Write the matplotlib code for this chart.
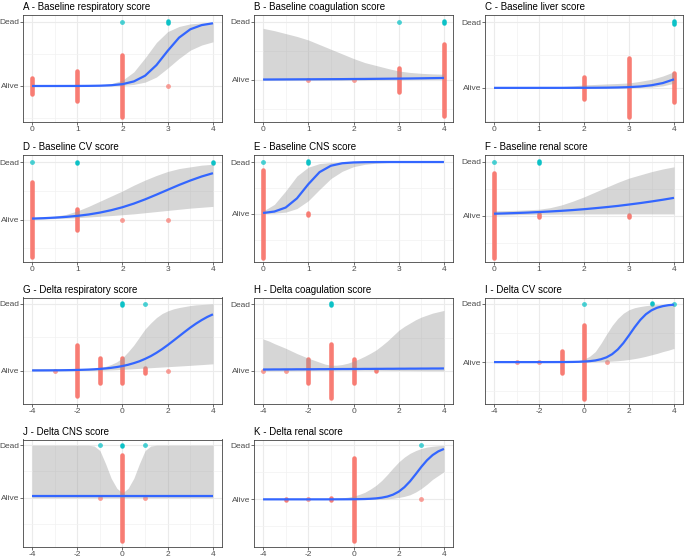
import matplotlib
matplotlib.use('Agg')
import matplotlib.pyplot as plt

plt.rcParams['font.family'] = ['Liberation Sans', 'DejaVu Sans']
plt.rcParams['axes.unicode_minus'] = False

# ---------------- data ----------------
OUTCOME_LABELS = ['Alive', 'Dead']
OUTCOME_VALUES = [0, 1]

TITLES = ['A - Baseline respiratory score', 'B - Baseline coagulation score',
          'C - Baseline liver score', 'D - Baseline CV score',
          'E - Baseline CNS score', 'F - Baseline renal score',
          'G - Delta respiratory score', 'H - Delta coagulation score',
          'I - Delta CV score', 'J - Delta CNS score', 'K - Delta renal score']

BASE_TICKS = [0, 1, 2, 3, 4]
DELTA_TICKS = [-4, -2, 0, 2, 4]

# x grid of the fitted curves (baseline 0..4, delta -4..4)
XB = [0, 0.25, 0.5, 0.75, 1, 1.25, 1.5, 1.75, 2, 2.25, 2.5, 2.75, 3, 3.25, 3.5, 3.75, 4]
XD = [-4, -3.75, -3.5, -3.25, -3, -2.75, -2.5, -2.25, -2, -1.75, -1.5, -1.25, -1, -0.75,
      -0.5, -0.25, 0, 0.25, 0.5, 0.75, 1, 1.25, 1.5, 1.75, 2, 2.25, 2.5, 2.75, 3, 3.25,
      3.5, 3.75, 4]

# fitted probability of death and confidence ribbon
fit_A = [0.0, 0.0, 0.0001, 0.0003, 0.0007, 0.0019, 0.0047, 0.012, 0.029, 0.071, 0.161, 0.326, 0.55, 0.755, 0.886, 0.951, 0.98]
lo_A = [0, 0, 0, 0, 0, 0, 0.001, 0.003, 0.008, 0.025, 0.06, 0.14, 0.28, 0.43, 0.56, 0.64, 0.69]
hi_A = [0.0, 0.0, 0.001, 0.001, 0.002, 0.004, 0.012, 0.035, 0.09, 0.22, 0.44, 0.68, 0.85, 0.93, 0.97, 0.985, 0.995]

fit_B = [0.008, 0.009, 0.01, 0.011, 0.012, 0.013, 0.014, 0.015, 0.017, 0.018, 0.02, 0.022, 0.024, 0.026, 0.029, 0.032, 0.035]
lo_B = [0, 0, 0, 0, 0, 0, 0, 0, 0.001, 0.002, 0.003, 0.004, 0.005, 0.007, 0.008, 0.01, 0.012]
hi_B = [0.89, 0.85, 0.8, 0.75, 0.69, 0.61, 0.53, 0.45, 0.37, 0.3, 0.25, 0.2, 0.155, 0.13, 0.115, 0.105, 0.1]

fit_C = [0.0, 0.0, 0.0, 0.0, 0.0001, 0.0002, 0.0003, 0.0005, 0.0009, 0.0017, 0.003, 0.006, 0.011, 0.021, 0.04, 0.073, 0.13]
lo_C = [0, 0, 0, 0, 0, 0, 0, 0, 0, 0, 0, 0, 0.002, 0.005, 0.012, 0.03, 0.07]
hi_C = [0.002, 0.003, 0.004, 0.006, 0.009, 0.013, 0.02, 0.03, 0.045, 0.052, 0.06, 0.067, 0.075, 0.1, 0.13, 0.18, 0.245]

fit_D = [0.0175, 0.0244, 0.034, 0.047, 0.065, 0.089, 0.122, 0.164, 0.216, 0.279, 0.353, 0.435, 0.52, 0.604, 0.682, 0.752, 0.81]
lo_D = [0.005, 0.01, 0.018, 0.025, 0.033, 0.045, 0.058, 0.07, 0.085, 0.1, 0.12, 0.14, 0.16, 0.18, 0.2, 0.215, 0.23]
hi_D = [0.035, 0.045, 0.06, 0.09, 0.15, 0.23, 0.32, 0.41, 0.5, 0.6, 0.69, 0.77, 0.84, 0.89, 0.92, 0.95, 0.965]

fit_E = [0.0137, 0.0415, 0.119, 0.297, 0.57, 0.805, 0.928, 0.976, 0.992, 0.9975, 0.9992, 1, 1, 1, 1, 1, 1]
lo_E = [0.003, 0.01, 0.03, 0.1, 0.25, 0.47, 0.68, 0.82, 0.91, 0.955, 0.978, 0.99, 0.995, 0.998, 1, 1, 1]
hi_E = [0.05, 0.18, 0.44, 0.73, 0.9, 0.97, 0.99, 0.997, 1, 1, 1, 1, 1, 1, 1, 1, 1]

fit_F = [0.037, 0.043, 0.05, 0.058, 0.068, 0.079, 0.091, 0.105, 0.121, 0.14, 0.16, 0.182, 0.208, 0.235, 0.265, 0.297, 0.332]
lo_F = [0.013, 0.016, 0.02, 0.024, 0.027, 0.028, 0.03, 0.031, 0.032, 0.032, 0.032, 0.033, 0.033, 0.033, 0.033, 0.033, 0.033]
hi_F = [0.09, 0.095, 0.1, 0.11, 0.12, 0.15, 0.2, 0.27, 0.35, 0.44, 0.53, 0.62, 0.7, 0.76, 0.82, 0.87, 0.91]

fit_G = [0.001, 0.0013, 0.0017, 0.0022, 0.0029, 0.0038, 0.005, 0.0065, 0.0084, 0.011, 0.014, 0.018, 0.024, 0.031, 0.04, 0.052, 0.067,
         0.086, 0.11, 0.138, 0.174, 0.215, 0.264, 0.319, 0.38, 0.445, 0.511, 0.577, 0.641, 0.7, 0.753, 0.8, 0.839]
lo_G = [0.0, 0.0, 0.0, 0.0, 0.0, 0.0001, 0.0002, 0.0003, 0.0005, 0.0008, 0.0012, 0.002, 0.003, 0.005, 0.008, 0.012, 0.018,
        0.022, 0.027, 0.032, 0.037, 0.042, 0.047, 0.052, 0.057, 0.062, 0.067, 0.072, 0.077, 0.083, 0.088, 0.094, 0.1]
hi_G = [0.03, 0.029, 0.028, 0.027, 0.026, 0.025, 0.025, 0.025, 0.025, 0.027, 0.03, 0.036, 0.045, 0.062, 0.09, 0.13, 0.19,
        0.28, 0.38, 0.5, 0.62, 0.71, 0.79, 0.85, 0.89, 0.92, 0.94, 0.955, 0.97, 0.98, 0.985, 0.99, 0.995]

fit_H = [0.020, 0.020, 0.021, 0.021, 0.022, 0.022, 0.023, 0.023, 0.024, 0.024, 0.025, 0.025, 0.026, 0.026, 0.027, 0.027, 0.028,
         0.028, 0.029, 0.029, 0.030, 0.030, 0.031, 0.031, 0.032, 0.032, 0.033, 0.033, 0.034, 0.034, 0.035, 0.035, 0.036]
lo_H = [0.001, 0.001, 0.001, 0.002, 0.002, 0.003, 0.003, 0.004, 0.005, 0.006, 0.007, 0.008, 0.009, 0.01, 0.01, 0.01, 0.01,
        0.01, 0.01, 0.009, 0.009, 0.008, 0.007, 0.006, 0.005, 0.004, 0.004, 0.003, 0.003, 0.002, 0.002, 0.002, 0.001]
hi_H = [0.48, 0.45, 0.41, 0.375, 0.34, 0.3, 0.26, 0.225, 0.19, 0.16, 0.13, 0.1, 0.085, 0.085, 0.095, 0.115, 0.145,
        0.18, 0.22, 0.265, 0.315, 0.38, 0.45, 0.53, 0.61, 0.67, 0.72, 0.77, 0.81, 0.84, 0.87, 0.89, 0.91]

fit_I = [0, 0, 0, 0, 0, 0, 0, 0, 0.0001, 0.0002, 0.0003, 0.0006, 0.001, 0.0017, 0.003, 0.0054, 0.0094,
         0.0163, 0.028, 0.049, 0.082, 0.136, 0.217, 0.327, 0.46, 0.599, 0.724, 0.822, 0.89, 0.934, 0.961, 0.978, 0.987]
lo_I = [0, 0, 0, 0, 0, 0, 0, 0, 0, 0, 0, 0, 0, 0, 0, 0, 0.0,
        0.003, 0.005, 0.008, 0.012, 0.017, 0.024, 0.033, 0.045, 0.06, 0.078, 0.1, 0.125, 0.15, 0.18, 0.205, 0.235]
hi_I = [0.001, 0.001, 0.001, 0.001, 0.001, 0.001, 0.001, 0.001, 0.001, 0.002, 0.002, 0.003, 0.004, 0.006, 0.01, 0.025, 0.05,
        0.1, 0.18, 0.32, 0.48, 0.63, 0.75, 0.84, 0.9, 0.935, 0.955, 0.97, 0.98, 0.987, 0.992, 0.996, 0.998]

fit_J = [0.03, 0.03, 0.03, 0.03, 0.03, 0.03, 0.03, 0.03, 0.03, 0.03, 0.03, 0.03, 0.03, 0.03, 0.03, 0.03, 0.03,
         0.03, 0.03, 0.03, 0.03, 0.03, 0.03, 0.03, 0.03, 0.03, 0.03, 0.03, 0.03, 0.03, 0.03, 0.03, 0.03]
lo_J = [0.0, 0.0, 0.0, 0.0, 0.0, 0.0, 0.0, 0.0, 0.0, 0.0, 0.0, 0.0, 0.0, 0.0, 0.0, 0.0, 0.0,
        0.0, 0.0, 0.0, 0.0, 0.0, 0.0, 0.0, 0.0, 0.0, 0.0, 0.0, 0.0, 0.0, 0.0, 0.0, 0.0]
hi_J = [1, 1, 1, 1, 1, 1, 1, 1, 1, 1, 1, 0.985, 0.9, 0.65, 0.37, 0.18, 0.09,
        0.18, 0.37, 0.65, 0.9, 0.985, 1, 1, 1, 1, 1, 1, 1, 1, 1, 1, 1]

fit_K = [0, 0, 0, 0, 0, 0, 0, 0, 0, 0, 0, 0, 0.0002, 0.0004, 0.0007, 0.0012, 0.002,
         0.0035, 0.006, 0.0105, 0.018, 0.031, 0.052, 0.087, 0.142, 0.224, 0.333, 0.464, 0.6, 0.722, 0.818, 0.886, 0.931]
lo_K = [0, 0, 0, 0, 0, 0, 0, 0, 0, 0, 0, 0, 0, 0, 0, 0, 0,
        0, 0, 0, 0.002, 0.005, 0.01, 0.02, 0.035, 0.055, 0.085, 0.135, 0.2, 0.28, 0.37, 0.44, 0.51]
hi_K = [0.005, 0.005, 0.005, 0.005, 0.005, 0.005, 0.005, 0.005, 0.005, 0.005, 0.005, 0.008, 0.012, 0.018, 0.026, 0.04, 0.06,
        0.09, 0.13, 0.19, 0.26, 0.35, 0.46, 0.58, 0.69, 0.78, 0.85, 0.9, 0.94, 0.965, 0.98, 0.99, 0.995]

# patient groups: (score, vertical half-extent of the stacked points)
alive_A = [(0, 0.13), (1, 0.23), (2, 0.48), (3, 0)]
dead_A = [(2, 0), (3, 0.02)]
alive_B = [(1, 0), (2, 0), (3, 0.21), (4, 0.62)]
dead_B = [(3, 0), (4, 0.02)]
alive_C = [(2, 0.17), (3, 0.45), (4, 0.22)]
dead_C = [(4, 0.025)]
alive_D = [(0, 0.66), (1, 0.18), (2, 0), (3, 0)]
dead_D = [(0, 0), (1, 0.01), (4, 0.01)]
alive_E = [(0, 0.85), (1, 0.02)]
dead_E = [(0, 0), (1, 0.02)]
alive_F = [(0, 0.79), (1, 0.03), (3, 0.02)]
dead_F = [(0, 0), (1, 0.01)]
alive_G = [(-3, 0), (-2, 0.38), (-1, 0.19), (0, 0.19), (1, 0.03), (2, 0)]
dead_G = [(0, 0.015), (1, 0)]
alive_H = [(-4, 0), (-3, 0), (-2, 0.18), (-1, 0.41), (0, 0.18), (1, 0.01)]
dead_H = [(-1, 0.015)]
alive_I = [(-3, 0), (-2, 0), (-1, 0.19), (0, 0.63), (1, 0)]
dead_I = [(0, 0), (3, 0.01), (4, 0)]
alive_J = [(-1, 0), (0, 0.82), (1, 0)]
dead_J = [(-1, 0), (0, 0.005), (1, 0)]
alive_K = [(-3, 0.01), (-2, 0), (-1, 0.02), (0, 0.77), (3, 0)]
dead_K = [(3, 0), (4, 0.005)]

# ---------------- layout / style ----------------
W_PX, H_PX = 685, 559
COL_LEFT = [23, 254, 485]
COL_W = [199, 199, 198]
ROW_TOP = [15, 155, 297.5, 439.5]
ROW_H = [107, 107, 106.5, 107.5]
YLIMS = [(-0.5625, 1.109), (-0.724, 1.12), (-0.52, 1.11), (-0.74, 1.127),
         (-0.935, 1.136), (-0.862, 1.13), (-0.456, 1.09), (-0.50, 1.105),
         (-0.72, 1.11), (-0.94, 1.11), (-0.88, 1.105)]

RED = '#F8766D'
CYAN = '#00BFC4'
BLUE = '#3366FF'

panels = [
    (XB, fit_A, lo_A, hi_A, alive_A, dead_A),
    (XB, fit_B, lo_B, hi_B, alive_B, dead_B),
    (XB, fit_C, lo_C, hi_C, alive_C, dead_C),
    (XB, fit_D, lo_D, hi_D, alive_D, dead_D),
    (XB, fit_E, lo_E, hi_E, alive_E, dead_E),
    (XB, fit_F, lo_F, hi_F, alive_F, dead_F),
    (XD, fit_G, lo_G, hi_G, alive_G, dead_G),
    (XD, fit_H, lo_H, hi_H, alive_H, dead_H),
    (XD, fit_I, lo_I, hi_I, alive_I, dead_I),
    (XD, fit_J, lo_J, hi_J, alive_J, dead_J),
    (XD, fit_K, lo_K, hi_K, alive_K, dead_K),
]

fig = plt.figure(figsize=(W_PX / 100, H_PX / 100), dpi=100)

for i, (xs, fit, lo, hi, alive, dead) in enumerate(panels):
    r, c = divmod(i, 3)
    left = COL_LEFT[c] / W_PX
    bottom = 1 - (ROW_TOP[r] + ROW_H[r]) / H_PX
    ax = fig.add_axes([left, bottom, COL_W[c] / W_PX, ROW_H[r] / H_PX])

    is_base = xs is XB
    if is_base:
        ax.set_xlim(-0.2, 4.2)
        ax.set_xticks(BASE_TICKS)
        ax.set_xticks([0.5, 1.5, 2.5, 3.5], minor=True)
    else:
        ax.set_xlim(-4.4, 4.4)
        ax.set_xticks(DELTA_TICKS)
        ax.set_xticks([-3, -1, 1, 3], minor=True)
    ax.set_xticklabels([str(t) for t in (BASE_TICKS if is_base else DELTA_TICKS)])
    ax.set_ylim(*YLIMS[i])
    ax.set_yticks(OUTCOME_VALUES)
    ax.set_yticklabels(OUTCOME_LABELS)
    ax.set_yticks([-0.5, 0.5], minor=True)

    ax.set_axisbelow(True)
    ax.grid(which='major', color='#EBEBEB', lw=0.8)
    ax.grid(which='minor', color='#F2F2F2', lw=0.5)
    ax.tick_params(which='major', length=2.2, width=0.5, color='#333333',
                   labelsize=6.0, labelcolor='#4D4D4D')
    ax.tick_params(axis='y', which='major', pad=0.6)
    ax.tick_params(axis='x', which='major', pad=0.8)
    ax.tick_params(which='minor', length=0)
    for s in ax.spines.values():
        s.set_color('#444444')
        s.set_linewidth(0.6)

    for yv, groups, col in ((0, alive, RED), (1, dead, CYAN)):
        for gx, h in groups:
            if h > 0:
                ax.plot([gx, gx], [yv - h, yv + h], color=col, lw=3.3,
                        solid_capstyle='round', alpha=0.95, zorder=2)
            else:
                ax.plot([gx], [yv], 'o', ms=3.5, color=col, mec='none',
                        alpha=0.7, zorder=2)

    ax.fill_between(xs, lo, hi, color='#999999', alpha=0.4, lw=0, zorder=3)
    ax.plot(xs, fit, color=BLUE, lw=1.6, zorder=4, solid_capstyle='butt')

    ax.set_title(TITLES[i], loc='left', fontsize=7.0, pad=3.5, color='black')

fig.savefig('out.png', dpi=100)
